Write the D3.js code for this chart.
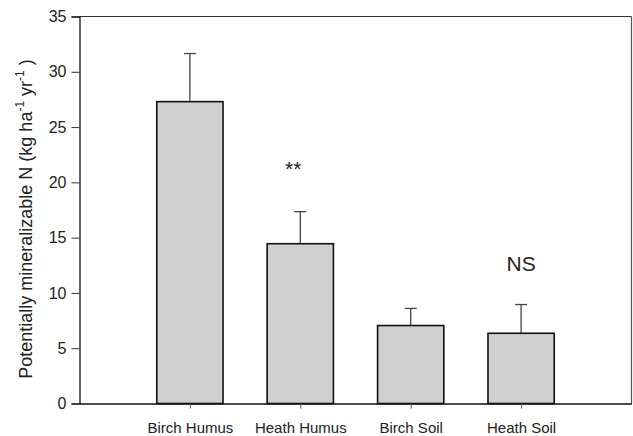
<!DOCTYPE html>
<html>
<head>
<meta charset="utf-8">
<script src="https://cdn.jsdelivr.net/npm/d3@7"></script>
<style>
  html, body { margin: 0; padding: 0; background: #fff; }
  svg { display: block; font-family: Arial, "Liberation Sans", sans-serif; }
</style>
</head>
<body>
<svg id="chart" width="633" height="436"></svg>
<script>
const categories = ["Birch Humus", "Heath Humus", "Birch Soil", "Heath Soil"];
const means = [27.3, 14.45, 7.05, 6.35];
const upperErrors = [4.35, 2.9, 1.55, 2.6];
const annotations = ["", "**", "", "NS"];
const annotationValues = [null, 20.6, null, 12.0];
const yTicks = [0, 5, 10, 15, 20, 25, 30, 35];

(function () {
const svg = d3.select("#chart");
const mLeft = 79.5, mRight = 631.5, mTop = 16.5, mBottom = 403.5;

const x = d3.scaleLinear().domain([0, categories.length + 1]).range([mLeft, mRight]);
const y = d3.scaleLinear().domain([0, 35]).range([mBottom, mTop]);
const step = x(1) - x(0);
const bw = step * 0.6;

// frame (top & right)
svg.append("line").attr("x1", mLeft).attr("x2", mRight).attr("y1", mTop).attr("y2", mTop)
  .attr("stroke", "#333").attr("stroke-width", 1.2);
svg.append("line").attr("x1", mRight).attr("x2", mRight).attr("y1", mTop).attr("y2", mBottom)
  .attr("stroke", "#555").attr("stroke-width", 1.2);

// error bars
const eg = svg.append("g");
categories.forEach((c, i) => {
  const cx = x(i + 1);
  eg.append("line").attr("x1", cx).attr("x2", cx)
    .attr("y1", y(means[i])).attr("y2", y(means[i] + upperErrors[i]))
    .attr("stroke", "#444").attr("stroke-width", 1.3);
  eg.append("line").attr("x1", cx - 6).attr("x2", cx + 6)
    .attr("y1", y(means[i] + upperErrors[i])).attr("y2", y(means[i] + upperErrors[i]))
    .attr("stroke", "#444").attr("stroke-width", 1.3);
});

// bars
svg.append("g").selectAll("rect").data(means).join("rect")
  .attr("x", (d, i) => x(i + 1) - bw / 2)
  .attr("y", d => y(d))
  .attr("width", bw)
  .attr("height", d => y(0) - y(d))
  .attr("fill", "#d0d0d0")
  .attr("stroke", "#111")
  .attr("stroke-width", 1.6);

// y axis
const yAxis = svg.append("g").attr("transform", `translate(${mLeft},0)`)
  .call(d3.axisLeft(y).tickValues(yTicks).tickSize(8).tickPadding(5).tickFormat(d3.format("d")));
yAxis.select(".domain").attr("stroke", "#111").attr("stroke-width", 1.3);
yAxis.selectAll(".tick line").attr("stroke", "#333");
yAxis.selectAll("text").attr("font-size", 16).attr("fill", "#222").attr("font-family", "Arial, 'Liberation Sans', sans-serif");

// x axis
const xAxis = svg.append("g").attr("transform", `translate(0,${mBottom})`)
  .call(d3.axisBottom(x).tickValues(categories.map((c, i) => i + 1)).tickSize(5).tickSizeOuter(0)
    .tickPadding(14).tickFormat((d) => categories[d - 1]));
xAxis.select(".domain").attr("stroke", "#111").attr("stroke-width", 1.3);
xAxis.selectAll(".tick line").attr("stroke", "#555");
xAxis.selectAll("text").attr("font-size", 15).attr("fill", "#222").attr("font-family", "Arial, 'Liberation Sans', sans-serif");

// annotations
categories.forEach((c, i) => {
  if (!annotations[i]) return;
  svg.append("text")
    .attr("x", x(i + 1) + (annotations[i] === "**" ? -7 : 0))
    .attr("y", y(annotationValues[i]))
    .attr("text-anchor", "middle")
    .attr("font-size", annotations[i] === "**" ? 21 : 21)
    .attr("fill", "#222")
    .text(annotations[i]);
});

// y title
const t = svg.append("text")
  .attr("transform", `translate(32,${(mTop + mBottom) / 2 + 9}) rotate(-90)`)
  .attr("text-anchor", "middle")
  .attr("font-size", 18)
  .attr("fill", "#222");
t.append("tspan").text("Potentially mineralizable N (kg ha");
t.append("tspan").attr("dy", -8).attr("font-size", 12).text("-1");
t.append("tspan").attr("dy", 8).text(" yr");
t.append("tspan").attr("dy", -8).attr("font-size", 12).text("-1");
t.append("tspan").attr("dy", 8).text(" )");
})();
</script>
</body>
</html>
